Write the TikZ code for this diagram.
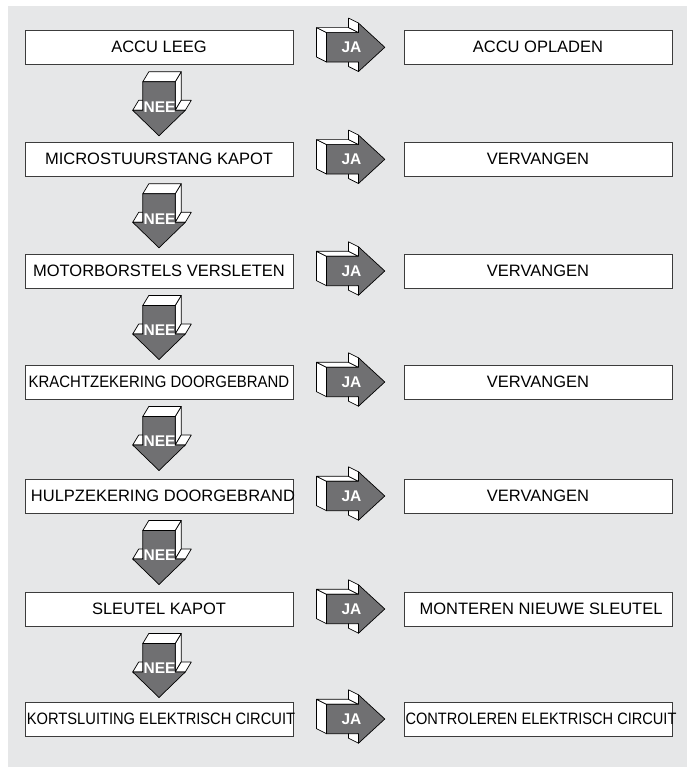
\documentclass[tikz,border=0pt]{standalone}
\usepackage{fontspec}
\setmainfont{Liberation Sans}
\usepackage{graphicx}
\usetikzlibrary{calc}
\definecolor{bg}{HTML}{E6E7E8}
\definecolor{arrowfill}{HTML}{707072}
\definecolor{boxline}{HTML}{3C3C3C}
\tikzset{
  stepbox/.style={draw=boxline, line width=1pt, fill=white, minimum width=268pt,
    minimum height=34pt, inner sep=0pt, font=\fontsize{16.5}{18}\selectfont},
  face/.style={fill=white, draw=black, line width=0.7pt, line join=round},
  front/.style={fill=arrowfill, draw=black, line width=0.7pt, line join=round},
  lbl/.style={text=white, font=\fontsize{15.5}{17}\selectfont\bfseries, inner sep=0pt},
  neearrow/.pic={
    \filldraw[face] (16.2,0) -- (22.2,-10) -- (22.2,18.5) -- (16.2,28.5) -- cycle;
    \filldraw[face] (-16.2,0) -- (16.2,0) -- (22.2,-10) -- (-10.2,-10) -- cycle;
    \filldraw[face] (-26.3,28.5) -- (-16.2,28.5) -- (-10.2,18.5) -- (-20.3,18.5) -- cycle;
    \filldraw[face] (16.2,28.5) -- (26.3,28.5) -- (32.3,18.5) -- (22.2,18.5) -- cycle;
    \filldraw[front] (-16.2,0) -- (16.2,0) -- (16.2,28.5) -- (26.3,28.5) -- (0,54)
      -- (-26.3,28.5) -- (-16.2,28.5) -- cycle;
    \node[lbl] (-t) at (0.5,25) {NEE};
  },
  jaarrow/.pic={
    \filldraw[face] (0,-14.7) -- (0,14.7) -- (-10,9.7) -- (-10,-19.7) -- cycle;
    \filldraw[face] (0,-14.7) -- (32,-14.7) -- (22,-19.7) -- (-10,-19.7) -- cycle;
    \filldraw[face] (32,-14.7) -- (32,-24.2) -- (22,-29.2) -- (22,-19.7) -- cycle;
    \filldraw[face] (32,14.7) -- (32,24.2) -- (22,19.2) -- (22,9.7) -- cycle;
    \filldraw[front] (0,-14.7) -- (32,-14.7) -- (32,-24.2) -- (58.3,0) -- (32,24.2)
      -- (32,14.7) -- (0,14.7) -- cycle;
    \node[lbl] (-t) at (25,0) {JA};
  }
}
\begin{document}
\begin{tikzpicture}[x=1pt,y=-1pt]
\useasboundingbox (0,0) rectangle (687,769);
\fill[bg] (8,6) rectangle (687,767);

\node[stepbox] (L1) at (159,47.3) {\makebox[0pt]{ACCU LEEG}};
\node[stepbox] (L2) at (159,159.3) {\makebox[0pt]{MICROSTUURSTANG KAPOT}};
\node[stepbox] (L3) at (159,271) {\makebox[0pt]{MOTORBORSTELS VERSLETEN}};
\node[stepbox] (L4) at (159,382) {\makebox[0pt]{\scalebox{0.905}[1]{KRACHTZEKERING DOORGEBRAND}}};
\node[stepbox] (L5) at (159,496) {\makebox[0pt]{\hspace{8pt}HULPZEKERING DOORGEBRAND}};
\node[stepbox] (L6) at (159,609) {\makebox[0pt]{SLEUTEL KAPOT}};
\node[stepbox] (L7) at (159,719) {\makebox[0pt]{\hspace{4pt}\scalebox{0.89}[1]{KORTSLUITING ELEKTRISCH CIRCUIT}}};

\node[stepbox] (R1) at (538,47.3) {\makebox[0pt]{ACCU OPLADEN}};
\node[stepbox] (R2) at (538,159.3) {\makebox[0pt]{VERVANGEN}};
\node[stepbox] (R3) at (538,271) {\makebox[0pt]{VERVANGEN}};
\node[stepbox] (R4) at (538,382) {\makebox[0pt]{VERVANGEN}};
\node[stepbox] (R5) at (538,496) {\makebox[0pt]{VERVANGEN}};
\node[stepbox] (R6) at (538,609) {\makebox[0pt]{\hspace{6pt}MONTEREN NIEUWE SLEUTEL}};
\node[stepbox] (R7) at (538,719) {\makebox[0pt]{\hspace{6pt}\scalebox{0.885}[1]{CONTROLEREN ELEKTRISCH CIRCUIT}}};

\pic (d1) at ($(L1.south)+(0,17)$) {neearrow};
\pic (d2) at ($(L2.south)+(0,17)$) {neearrow};
\pic (d3) at ($(L3.south)+(0,17)$) {neearrow};
\pic (d4) at ($(L4.south)+(0,17)$) {neearrow};
\pic (d5) at ($(L5.south)+(0,17)$) {neearrow};
\pic (d6) at ($(L6.south)+(0,17)$) {neearrow};

\pic (j1) at ($(L1.east)+(33,0)$) {jaarrow};
\pic (j2) at ($(L2.east)+(33,0)$) {jaarrow};
\pic (j3) at ($(L3.east)+(33,0)$) {jaarrow};
\pic (j4) at ($(L4.east)+(33,0)$) {jaarrow};
\pic (j5) at ($(L5.east)+(33,0)$) {jaarrow};
\pic (j6) at ($(L6.east)+(33,0)$) {jaarrow};
\pic (j7) at ($(L7.east)+(33,0)$) {jaarrow};
\end{tikzpicture}
\end{document}
